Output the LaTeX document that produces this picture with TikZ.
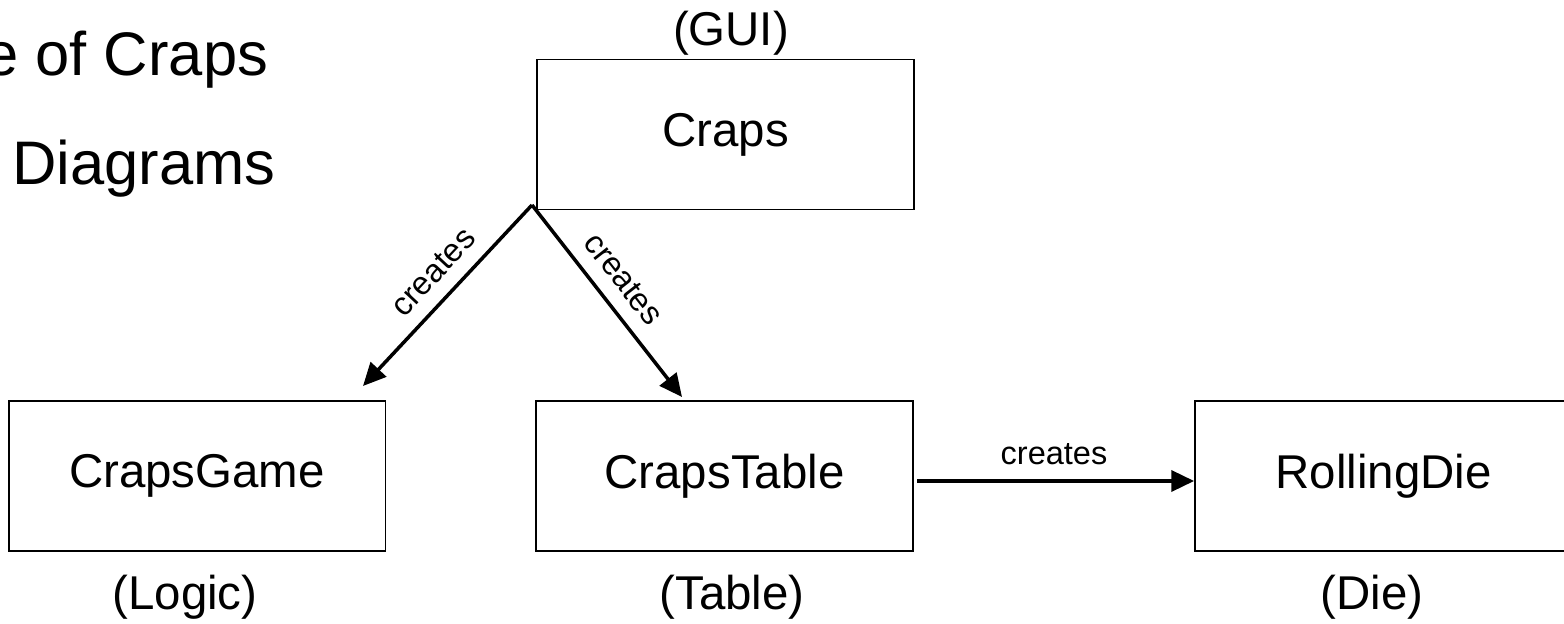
\documentclass[tikz,border=0pt]{standalone}
\usepackage{fontspec}
\setmainfont{Liberation Sans}
\usetikzlibrary{arrows.meta}

\begin{document}
\begin{tikzpicture}[x=0.02cm, y=-0.02cm, % one unit = one pixel, y down
	> = {Triangle[length=13pt,width=12pt]}, % arrow head style
	creates/.style={->, line width=2pt},
	classbox/.style={draw, line width=1.1pt, minimum width=7.54cm, minimum height=3cm,
		font=\fontsize{27}{31}\selectfont},
	role/.style={inner sep=0pt, font=\fontsize{27}{31}\selectfont},
	verb/.style={inner sep=8pt, font=\fontsize{18.5}{22}\selectfont},
	heading/.style={anchor=base west, inner sep=0pt, font=\fontsize{35}{41}\selectfont}]
	\useasboundingbox (0,0) rectangle (1564,624);

	% title lines, cut at the left edge
	\node[heading] (title1) at (-16,76)  {e of Craps};
	\node[heading] (title2) at (12,185)  {Diagrams};

	% classes
	\node[classbox] (gui)   at (725.5,134.5) {Craps};
	\node[classbox] (game)  at (197,476)     {CrapsGame};
	\node[classbox] (table) at (724.5,476)   {CrapsTable};
	\node[classbox] (die)   at (1383.5,476)  {RollingDie};

	\node[role] (guiRole)   at (731,33)   {(GUI)};
	\node[role] (gameRole)  at (185,597)  {(Logic)};
	\node[role] (tableRole) at (732,597)  {(Table)};
	\node[role] (dieRole)   at (1372,597) {(Die)};

	\coordinate (fork)     at (532,205);
	\coordinate (gameTip)  at (363,386);
	\coordinate (tableTip) at (682,397);

	\draw[creates] (fork) -- node[verb, sloped, above, pos=.47] {creates} (gameTip);
	\draw[creates] (fork) -- node[verb, sloped, above, pos=.47] {creates} (tableTip);
	\draw[creates, shorten <=2pt] ([yshift=-0.1cm]table.east)
		-- node[verb, above] {creates} ([yshift=-0.1cm]die.west);

\end{tikzpicture}
\end{document}
